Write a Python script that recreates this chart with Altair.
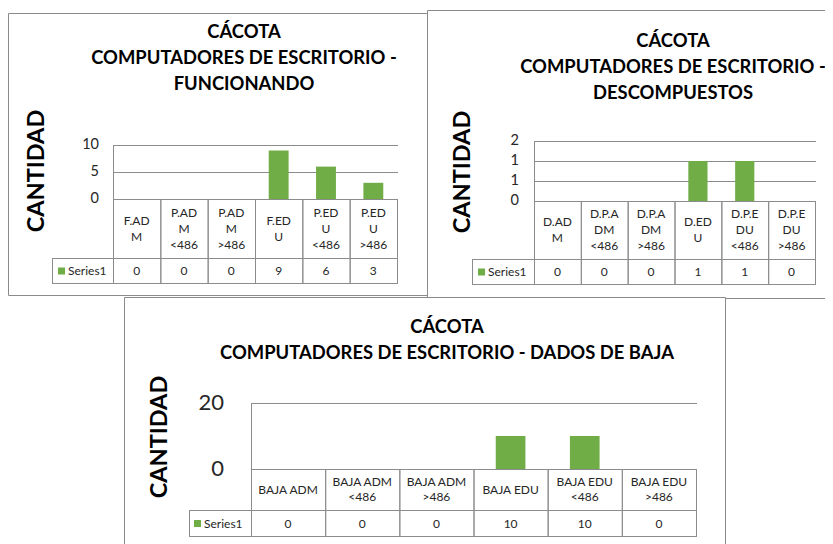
import altair as alt
import pandas as pd

# ---------------- data ----------------
series_name = "Series1"
axis_title = "CANTIDAD"

cats1 = ["F.ADM", "P.ADM <486", "P.ADM >486", "F.EDU", "P.EDU <486", "P.EDU >486"]
labs1 = ["F.AD\nM", "P.AD\nM\n<486", "P.AD\nM\n>486", "F.ED\nU", "P.ED\nU\n<486", "P.ED\nU\n>486"]
vals1 = [0, 0, 0, 9, 6, 3]
ticks1 = [0, 5, 10]
title1 = ["CÁCOTA", "COMPUTADORES DE ESCRITORIO -", "FUNCIONANDO"]

cats2 = ["D.ADM", "D.P.ADM <486", "D.P.ADM >486", "D.EDU", "D.P.EDU <486", "D.P.EDU >486"]
labs2 = ["D.AD\nM", "D.P.A\nDM\n<486", "D.P.A\nDM\n>486", "D.ED\nU", "D.P.E\nDU\n<486", "D.P.E\nDU\n>486"]
vals2 = [0, 0, 0, 1, 1, 0]
ticks2 = [0, 0.5, 1, 1.5]
title2 = ["CÁCOTA", "COMPUTADORES DE ESCRITORIO -", "DESCOMPUESTOS"]

cats3 = ["BAJA ADM", "BAJA ADM <486", "BAJA ADM >486", "BAJA EDU", "BAJA EDU <486", "BAJA EDU >486"]
labs3 = ["BAJA ADM", "BAJA ADM\n<486", "BAJA ADM\n>486", "BAJA EDU", "BAJA EDU\n<486", "BAJA EDU\n>486"]
vals3 = [0, 0, 0, 10, 10, 0]
ticks3 = [0, 20]
title3 = ["CÁCOTA", "COMPUTADORES DE ESCRITORIO - DADOS DE BAJA"]

# ---------------- style / layout ----------------
OFF = 8
GREEN = "#70AD47"
LINE = "#8C8C8C"
FRAME = "#8A8A8A"
FONT = "Lato"
TXT = "#262626"

geo1 = dict(fx0=8, fy0=13, fx1=427, fy1=295, x0=113, x1=397, y0=199, ytop=145,
            hb=258, sb=283, lx=52, band=0.42, tcx=244, tby=38, ccx=37, ccy=171,
            tr=99, tfs=14.5, sq=58, stx=68, hfs=12, hlh=16)
geo2 = dict(fx0=427, fy0=10, fx1=845, fy1=298, x0=534, x1=815, y0=201, ytop=141,
            hb=259, sb=284, lx=472, band=0.41, tcx=673, tby=47, ccx=463, ccy=172,
            tr=519, tfs=14.5, sq=478, stx=488, hfs=12, hlh=16)
geo3 = dict(fx0=124, fy0=297, fx1=725, fy1=570, x0=251, x1=696, y0=469, ytop=403,
            hb=510, sb=536, lx=189, band=0.40, tcx=447, tby=333, ccx=160, ccy=437,
            tr=224, tfs=22, sq=194, stx=204, hfs=12, hlh=15)


def P(v):
    return v - OFF


one = pd.DataFrame({"k": [0]})


def panel(cats, labs, vals, ticks, title, g):
    df = pd.DataFrame({"cat": cats, "lab": labs, "v": vals})
    tdf = pd.DataFrame({"t": ticks})
    xs = alt.Scale(domain=cats, range=[P(g["x0"]), P(g["x1"])], paddingInner=0, paddingOuter=0)
    ys = alt.Scale(domain=[0, ticks[-1]], range=[P(g["y0"]), P(g["ytop"])], nice=False, zero=True)

    def X(**kw):
        return alt.X("cat:N", scale=xs, axis=None, sort=cats, **kw)

    Y = alt.Y("t:Q", scale=ys, axis=None)
    base = alt.Chart(df)
    L = []
    # frame
    L.append(alt.Chart(one).mark_rect(fill="white", stroke=FRAME, strokeWidth=1).encode(
        x=alt.value(P(g["fx0"]) + 0.5), x2=alt.value(P(g["fx1"]) + 0.5),
        y=alt.value(P(g["fy0"]) + 0.5), y2=alt.value(P(g["fy1"]) + 0.5)))
    # gridlines
    L.append(alt.Chart(tdf).mark_rule(color=LINE, strokeWidth=1, yOffset=0.5).encode(
        y=Y, x=alt.value(P(g["x0"])), x2=alt.value(P(g["x1"]) + 1)))
    # bars
    L.append(base.mark_bar(color=GREEN, width=alt.RelativeBandSize(g["band"])).encode(
        x=X(), y=alt.Y("v:Q", scale=ys, axis=None)))
    # table horizontal lines
    for yy in (g["hb"], g["sb"]):
        L.append(alt.Chart(one).mark_rule(color=LINE, strokeWidth=1).encode(
            x=alt.value(P(g["lx"])), x2=alt.value(P(g["x1"]) + 1),
            y=alt.value(P(yy) + 0.5)))
    # legend cell left line
    L.append(alt.Chart(one).mark_rule(color=LINE, strokeWidth=1).encode(
        x=alt.value(P(g["lx"]) + 0.5), y=alt.value(P(g["hb"])), y2=alt.value(P(g["sb"]) + 1)))
    # plot left line
    L.append(alt.Chart(one).mark_rule(color=LINE, strokeWidth=1).encode(
        x=alt.value(P(g["x0"]) + 0.5), y=alt.value(P(g["ytop"])), y2=alt.value(P(g["sb"]) + 1)))
    # column separators (band edges)
    for bp in (0, 1):
        L.append(base.mark_rule(color=LINE, strokeWidth=1, xOffset=0.5).encode(
            x=X(bandPosition=bp), y=alt.value(P(g["y0"])), y2=alt.value(P(g["sb"]) + 1)))
    # header labels (wrapped), centred vertically in the header row
    hc = (g["y0"] + g["hb"]) / 2
    for n in (1, 2, 3):
        L.append(base.transform_calculate(lines="split(datum.lab, '\\n')")
                 .transform_filter(f"length(datum.lines) == {n}")
                 .mark_text(font=FONT, fontSize=g["hfs"], lineHeight=g["hlh"], color=TXT,
                            baseline="middle").encode(
            x=X(), y=alt.value(P(hc - (n - 1) * g["hlh"] / 2)), text="lines:N"))
    # values row
    rc = (g["hb"] + g["sb"]) / 2
    L.append(base.mark_text(font=FONT, fontSize=12, color=TXT, baseline="middle").encode(
        x=X(), y=alt.value(P(rc) + 0.5), text="v:Q"))
    # legend key + name
    L.append(alt.Chart(one).mark_rect(color=GREEN).encode(
        x=alt.value(P(g["sq"])), x2=alt.value(P(g["sq"]) + 7),
        y=alt.value(P(rc) - 3), y2=alt.value(P(rc) + 4)))
    L.append(alt.Chart(one).mark_text(text=series_name, font=FONT, fontSize=12, color=TXT,
                                      align="left", baseline="middle").encode(
        x=alt.value(P(g["stx"])), y=alt.value(P(rc) + 0.5)))
    # y tick labels
    L.append(alt.Chart(tdf).transform_calculate(lab="format(round(datum.t), 'd')").mark_text(
        font=FONT, fontSize=g["tfs"], color=TXT, align="right", baseline="middle").encode(
        y=Y, x=alt.value(P(g["tr"])), text="lab:N"))
    # axis title
    L.append(alt.Chart(one).mark_text(text=axis_title, font=FONT, fontSize=23.5, fontWeight="bold",
                                      color="black", angle=270, align="center", baseline="middle").encode(
        x=alt.value(P(g["ccx"])), y=alt.value(P(g["ccy"]))))
    # chart title
    L.append(alt.Chart(one).mark_text(text=title, font=FONT, fontSize=18.4, fontWeight="bold",
                                      color="black", lineHeight=26, align="center",
                                      baseline="alphabetic").encode(
        x=alt.value(P(g["tcx"])), y=alt.value(P(g["tby"]))))
    return alt.layer(*L)


p1 = panel(cats1, labs1, vals1, ticks1, title1, geo1)
p2 = panel(cats2, labs2, vals2, ticks2, title2, geo2)
p3 = panel(cats3, labs3, vals3, ticks3, title3, geo3)

chart = alt.layer(p1, p2, p3).resolve_scale(x="independent", y="independent").properties(
    width=817, height=536, autosize="none", padding=0
).configure_view(stroke=None)

chart.save("out.html", embed_options={"renderer": "svg", "actions": False})
